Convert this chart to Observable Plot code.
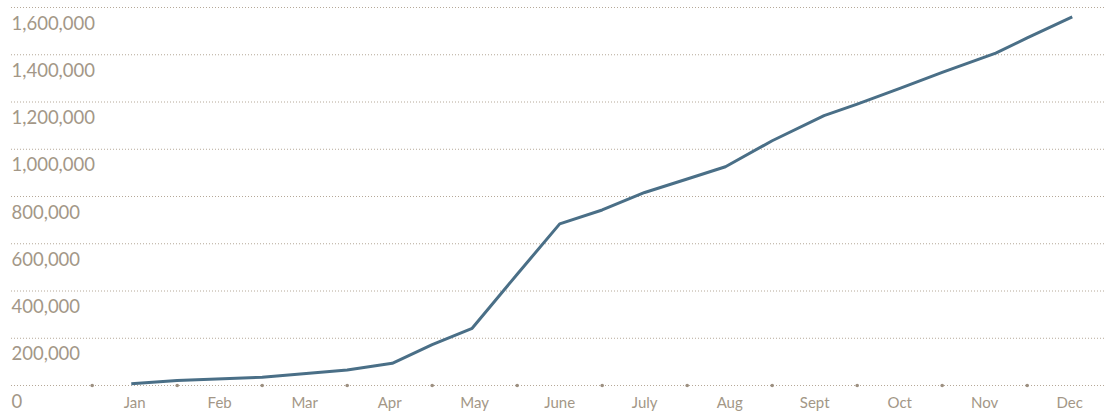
<!DOCTYPE html>
<html>
<head>
<meta charset="utf-8">
<script src="https://cdn.jsdelivr.net/npm/d3@7"></script>
<script src="https://cdn.jsdelivr.net/npm/@observablehq/plot@0.6"></script>
<style>
  html, body { margin: 0; padding: 0; background: #fff; }
  #chart svg { display: block; }
</style>
</head>
<body>
<div id="chart"></div>
<script>
// Month categories (equal-width bands)
const months = ["Jan", "Feb", "Mar", "Apr", "May", "June", "July", "Aug", "Sept", "Oct", "Nov", "Dec"];
// Position of each observation, in months from the start of January
const monthPos = [0.46, 1, 2, 3, 3.53, 4, 4.47, 5, 5.5, 6, 6.5, 7, 7.45, 8, 8.61, 9, 9.51, 10, 10.63, 11, 11.53];
// Cumulative values
const values = [7000, 21000, 35000, 66000, 94000, 173000, 242000, 471000, 684000, 743000, 817000, 874000, 926000, 1036000, 1142000, 1191000, 1259000, 1325000, 1407000, 1471000, 1560000];
// Y tick values
const yTicks = [0, 200000, 400000, 600000, 800000, 1000000, 1200000, 1400000, 1600000];
// Month boundaries marked with dots on the baseline
const boundaries = [0, 1, 2, 3, 4, 5, 6, 7, 8, 9, 10, 11];

const series = monthPos.map((m, i) => ({m, v: values[i]}));
const textColor = "#a39787";
const gridColor = "#b5a898";
const font = "Lato, 'Open Sans', sans-serif";

const chart = Plot.plot({
  width: 1106,
  height: 412,
  marginTop: 7,
  marginBottom: 27,
  marginLeft: 11,
  marginRight: 1,
  style: {fontFamily: font, background: "#fff"},
  x: {type: "linear", domain: [0, 12], range: [91.7, 1111.7], axis: null},
  y: {domain: [0, 1600000], axis: null},
  marks: [
    Plot.ruleY(yTicks, {stroke: gridColor, strokeWidth: 1, strokeDasharray: "1,2"}),
    Plot.dot(boundaries, {x: d => d, y: () => 0, r: 1.8, fill: "#9d9081", stroke: "none"}),
    Plot.text(yTicks.filter(d => d > 0), {
      y: d => d, frameAnchor: "left", textAnchor: "start", lineAnchor: "bottom",
      dy: 22, text: d => d3.format(",")(d), fill: textColor, fontSize: 18.5
    }),
    Plot.text([0], {
      y: d => d, frameAnchor: "left", textAnchor: "start", lineAnchor: "bottom",
      dy: 22, text: d => "0", fill: textColor, fontSize: 18.5
    }),
    Plot.text(months, {
      x: (d, i) => i + 0.5, y: () => 0, lineAnchor: "bottom", dy: 22,
      text: d => d, fill: textColor, fontSize: 15
    }),
    Plot.line(series, {x: "m", y: "v", stroke: "#4a6f87", strokeWidth: 3, strokeLinejoin: "round", strokeLinecap: "butt"})
  ]
});
document.getElementById("chart").appendChild(chart);
</script>
</body>
</html>
